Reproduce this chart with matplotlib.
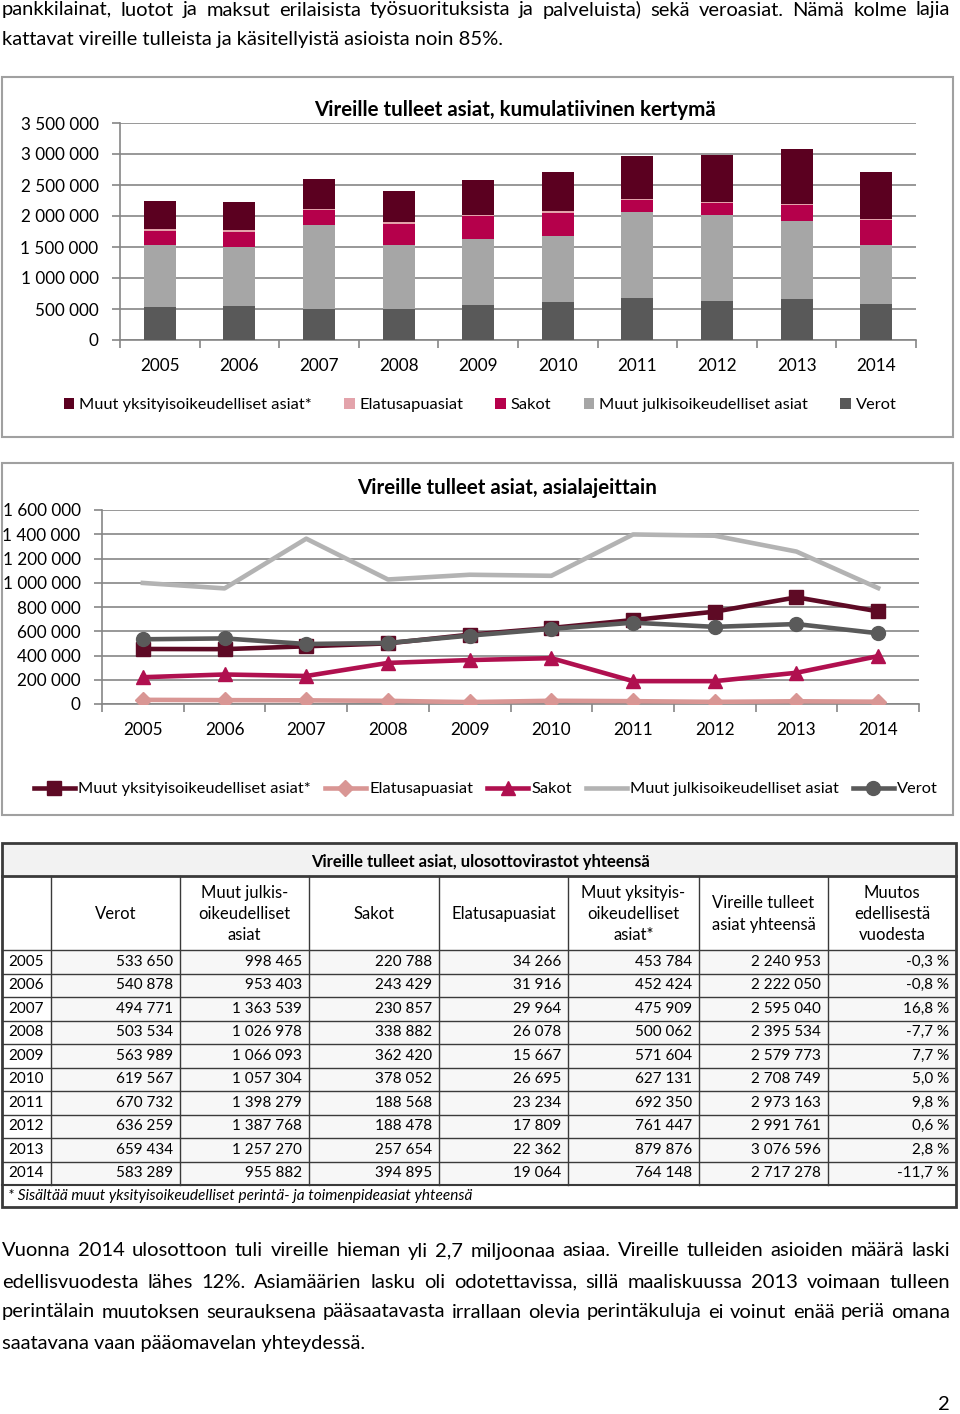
import matplotlib
matplotlib.use("Agg")
import numpy as np
from matplotlib import pyplot as plt
from matplotlib.ticker import FuncFormatter, MultipleLocator
from matplotlib.patches import Rectangle

plt.rcParams['font.family'] = ['Lato', 'DejaVu Sans']

# --- data (ulosottovirastot yhteensä) ---
vuodet = [2005, 2006, 2007, 2008, 2009, 2010, 2011, 2012, 2013, 2014]
verot = [533650, 540878, 494771, 503534, 563989, 619567, 670732, 636259, 659434, 583289]
julkis = [998465, 953403, 1363539, 1026978, 1066093, 1057304, 1398279, 1387768, 1257270, 955882]
sakot = [220788, 243429, 230857, 338882, 362420, 378052, 188568, 188478, 257654, 394895]
elatus = [34266, 31916, 29964, 26078, 15667, 26695, 23234, 17809, 22362, 19064]
yksityis = [453784, 452424, 475909, 500062, 571604, 627131, 692350, 761447, 879876, 764148]
yhteensa = [2240953, 2222050, 2595040, 2395534, 2579773, 2708749, 2973163, 2991761, 3076596, 2717278]
muutos = ['-0,3 %', '-0,8 %', '16,8 %', '-7,7 %', '7,7 %', '5,0 %', '9,8 %', '0,6 %', '2,8 %', '-11,7 %']

nimet = ['Muut yksityisoikeudelliset asiat*', 'Elatusapuasiat', 'Sakot',
         'Muut julkisoikeudelliset asiat', 'Verot']
bar_varit = ['#5b0020', '#e3a3ab', '#b5004b', '#a6a6a6', '#595959']
line_varit = ['#5e0a25', '#d99694', '#b0104f', '#b3b3b3', '#5a5a5a']
merkit = ['s', 'D', '^', None, 'o']

W, H = 960, 1414
GRID = '#868686'


def luku(v, pos=None):
    return f"{int(v):,}".replace(',', ' ')


fig = plt.figure(figsize=(W / 100, H / 100), dpi=100)

# page layer in pixel coordinates
page = fig.add_axes([0, 0, 1, 1], zorder=0)
page.set_xlim(0, W)
page.set_ylim(H, 0)
page.axis('off')


def ax_px(l, t, r, b):
    return fig.add_axes([l / W, 1 - b / H, (r - l) / W, (b - t) / H], zorder=2)


def justify(rivi, y, x0=2, x1=950, **kw):
    sanat = rivi.split()
    texts = [page.text(0, y, s, va='center', ha='left', **kw) for s in sanat]
    r = fig.canvas.get_renderer()
    leveys = [t.get_window_extent(r).width for t in texts]
    vali = (x1 - x0 - sum(leveys)) / (len(sanat) - 1)
    x = x0
    for t, w in zip(texts, leveys):
        t.set_x(x)
        x += w + vali


para = dict(fontsize=14.5, color='black')

# --- text above ---
justify("pankkilainat, luotot ja maksut erilaisista työsuorituksista ja palveluista) sekä veroasiat. Nämä kolme lajia", 10, **para)
page.text(2, 40, "kattavat vireille tulleista ja käsitellyistä asioista noin 85%.", va='center', **para)

# --- chart boxes ---
for (l, t, r, b) in [(2, 77, 953, 437), (2, 463, 953, 815)]:
    page.add_patch(Rectangle((l, t), r - l, b - t, facecolor='white', edgecolor='#a0a0a0', lw=1.5))

x = np.arange(len(vuodet))

# --- chart 1: stacked bars ---
ax1 = ax_px(120, 123, 916, 340)
ax1.patch.set_alpha(0)
pinot = [verot, julkis, sakot, elatus, yksityis]
alku = np.zeros(len(vuodet))
bars = {}
for i, arvot in zip([4, 3, 2, 1, 0], pinot):
    bars[i] = ax1.bar(x, arvot, 0.4, bottom=alku, color=bar_varit[i], label=nimet[i], zorder=3)
    alku = alku + np.array(arvot)
ax1.set_ylim(0, 3500000)
ax1.set_xlim(-0.5, 9.5)
ax1.yaxis.set_major_locator(MultipleLocator(500000))
ax1.yaxis.set_major_formatter(FuncFormatter(luku))
ax1.yaxis.grid(True, color=GRID, lw=1.2)
ax1.set_axisbelow(True)
for s in ['top', 'right']:
    ax1.spines[s].set_visible(False)
for s in ['left', 'bottom']:
    ax1.spines[s].set_color(GRID)
    ax1.spines[s].set_linewidth(1.2)
ax1.set_xticks(x)
ax1.set_xticklabels(vuodet)
ax1.set_xticks(np.arange(-0.5, 10, 1), minor=True)
ax1.tick_params(axis='x', which='major', length=0, pad=13, labelsize=12.3)
ax1.tick_params(axis='x', which='minor', length=6, color=GRID, width=1.2)
ax1.tick_params(axis='y', length=6, color=GRID, width=1.2, pad=9.4, labelsize=12.3)
fig.text(515 / W, 1 - 110 / H, "Vireille tulleet asiat, kumulatiivinen kertymä",
         ha='center', va='center', fontsize=14.8, fontweight='bold')
fig.legend([bars[i] for i in range(5)], nimet, loc='center', bbox_to_anchor=(480 / W, 1 - 405 / H),
           ncol=5, frameon=False, handlelength=0.65, handleheight=0.65, handletextpad=0.3,
           columnspacing=1.95, fontsize=11.8)

# --- chart 2: lines ---
ax2 = ax_px(102, 510, 919, 704)
ax2.patch.set_alpha(0)
sarjat = [yksityis, elatus, sakot, julkis, verot]
viivat = []
for i, arvot in enumerate(sarjat):
    l, = ax2.plot(x, arvot, color=line_varit[i], lw=3.3, marker=merkit[i],
                  markersize=10 if merkit[i] != 'D' else 8.5, zorder=3 + i)
    viivat.append(l)
ax2.set_ylim(0, 1600000)
ax2.set_xlim(-0.5, 9.5)
ax2.yaxis.set_major_locator(MultipleLocator(200000))
ax2.yaxis.set_major_formatter(FuncFormatter(luku))
ax2.yaxis.grid(True, color=GRID, lw=1.2)
ax2.set_axisbelow(True)
for s in ['top', 'right']:
    ax2.spines[s].set_visible(False)
for s in ['left', 'bottom']:
    ax2.spines[s].set_color(GRID)
    ax2.spines[s].set_linewidth(1.2)
ax2.set_xticks(x)
ax2.set_xticklabels(vuodet)
ax2.set_xticks(np.arange(-0.5, 10, 1), minor=True)
ax2.tick_params(axis='x', which='major', length=0, pad=13, labelsize=12.3)
ax2.tick_params(axis='x', which='minor', length=6, color=GRID, width=1.2)
ax2.tick_params(axis='y', length=6, color=GRID, width=1.2, pad=9.4, labelsize=12.3)
fig.text(507 / W, 1 - 488 / H, "Vireille tulleet asiat, asialajeittain",
         ha='center', va='center', fontsize=14.8, fontweight='bold')
fig.legend(viivat, nimet, loc='center', bbox_to_anchor=(486 / W, 1 - 789 / H),
           ncol=5, frameon=False, handlelength=2.5, handletextpad=0.2,
           columnspacing=0.85, fontsize=11.8)

# --- table ---
sarakkeet = [2, 51, 180, 309, 439, 568, 699, 828, 956]
otsikot = ['', 'Verot', 'Muut julkis-\noikeudelliset\nasiat', 'Sakot', 'Elatusapuasiat',
           'Muut yksityis-\noikeudelliset\nasiat*', 'Vireille tulleet\nasiat yhteensä',
           'Muutos\nedellisestä\nvuodesta']
T0, T1, T2 = 843, 876, 950
rivi_h = 23.5
T3 = T2 + rivi_h * len(vuodet)
T4 = 1207

page.add_patch(Rectangle((2, T0), 954, T1 - T0, facecolor='#f2f2f2', edgecolor='none'))
page.add_patch(Rectangle((51, T2), 905, T3 - T2, facecolor='#f7f7f7', edgecolor='none'))
page.text(480, (T0 + T1) / 2 + 2, "Vireille tulleet asiat, ulosottovirastot yhteensä",
          ha='center', va='center', fontsize=12, fontweight='bold')
for j, otsikko in enumerate(otsikot):
    xc = (sarakkeet[j] + sarakkeet[j + 1]) / 2
    page.text(xc, (T1 + T2) / 2 + 1, otsikko, ha='center', va='center', fontsize=12,
              linespacing=1.42)

solut = [verot, julkis, sakot, elatus, yksityis, yhteensa]
for r, v in enumerate(vuodet):
    yc = T2 + rivi_h * (r + 0.5)
    page.text(8, yc, str(v), ha='left', va='center', fontsize=11)
    for j, sarja in enumerate(solut):
        page.text(sarakkeet[j + 2] - 7, yc, luku(sarja[r]), ha='right', va='center', fontsize=11)
    page.text(sarakkeet[8] - 7, yc, muutos[r], ha='right', va='center', fontsize=11)
page.text(8, (T3 + T4) / 2, "* Sisältää muut yksityisoikeudelliset perintä- ja toimenpideasiat yhteensä",
          ha='left', va='center', fontsize=11.1, style='italic')

viiva = '#3a3a3a'
for xs in sarakkeet[1:-1]:
    page.plot([xs, xs], [T1, T3], color=viiva, lw=1)
for r in range(len(vuodet)):
    yy = T2 + rivi_h * r
    page.plot([2, 956], [yy, yy], color=viiva, lw=1)
page.plot([2, 956], [T1, T1], color=viiva, lw=2)
page.plot([2, 956], [T3, T3], color=viiva, lw=1.5)
page.add_patch(Rectangle((2, T0), 954, T4 - T0, facecolor='none', edgecolor=viiva, lw=2))

# --- text below ---
justify("Vuonna 2014 ulosottoon tuli vireille hieman yli  2,7 miljoonaa asiaa. Vireille tulleiden asioiden määrä laski", 1251, **para)
justify("edellisvuodesta lähes 12%. Asiamäärien lasku oli odotettavissa, sillä maaliskuussa 2013 voimaan tulleen", 1282, **para)
justify("perintälain muutoksen seurauksena pääsaatavasta irrallaan olevia perintäkuluja ei voinut enää periä omana", 1312, **para)
page.text(2, 1343, "saatavana vaan pääomavelan yhteydessä.", va='center', **para)
page.text(950, 1404, "2", ha='right', va='center', **para)

fig.savefig('out.png', dpi=100)
